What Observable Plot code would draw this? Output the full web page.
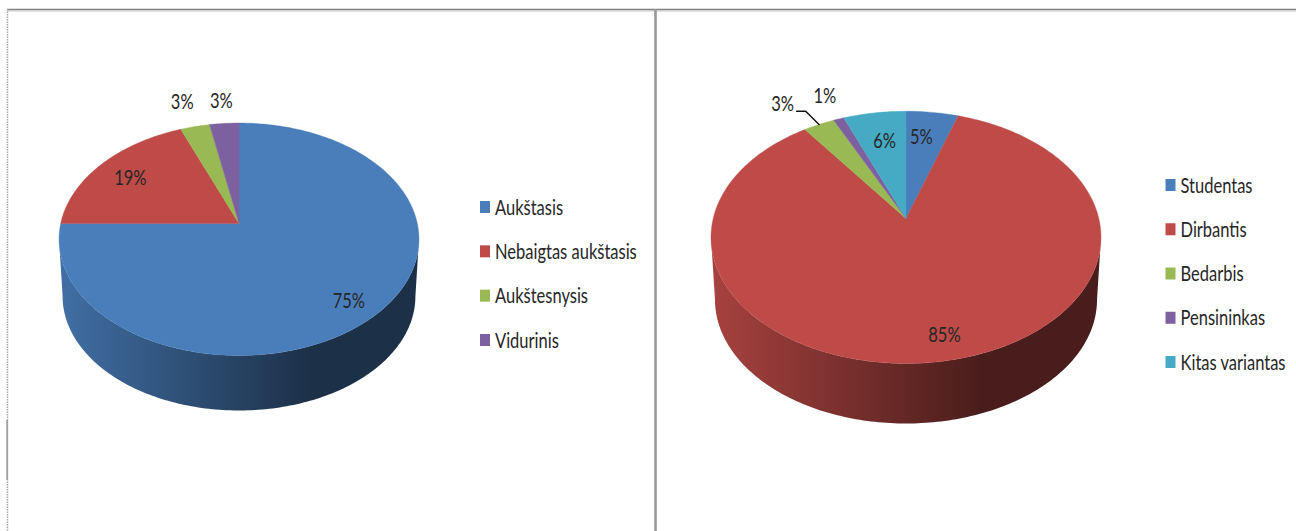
<!DOCTYPE html>
<html lang="lt">
<head>
<meta charset="utf-8">
<title>Respondentų išsilavinimas ir užimtumas</title>
<script src="https://cdn.jsdelivr.net/npm/d3@7"></script>
<script src="https://cdn.jsdelivr.net/npm/@observablehq/plot@0.6"></script>
<style>
  html, body { margin: 0; padding: 0; background: #fff; overflow: hidden; }
  svg { display: block; }
</style>
</head>
<body>
<div id="chart"></div>
<script>
// Education of respondents
const educationLabels = ["Aukštasis", "Nebaigtas aukštasis", "Aukštesnysis", "Vidurinis"];
const educationShares = [75, 19, 3, 3];

// Occupation of respondents
const occupationLabels = ["Studentas", "Dirbantis", "Bedarbis", "Pensininkas", "Kitas variantas"];
const occupationShares = [5, 85, 3, 1, 6];

const sliceColors = ["#4a7ebb", "#be4b48", "#98b954", "#7d60a0", "#46aac5"];

// Perspective of each disc: the top face and the lower rim have their own projection.
const educationDisc = {
  top: {cx: 238.5, cy: 223, rx: 178.3, ry: 114.1, k: 0.1355},
  rim: {cx: 238.5, cy: 278.7, rx: 174.4, ry: 111.6, k: 0.15},
  wallSlice: 0,
  gradient: "wall-education",
  labelRadius: [0.75, 0.75, 1.15, 1.15],
  labelNudge: [[8, 12], [-4, 0], [-7, -11.5], [-1, -9.5]],
  legend: {x: 480, y: 207, step: 44.33}
};
const occupationDisc = {
  top: {cx: 905.5, cy: 218, rx: 192.8, ry: 123.3, k: 0.1494},
  rim: {cx: 905.5, cy: 278.7, rx: 188.4, ry: 120.5, k: 0.165},
  wallSlice: 1,
  gradient: "wall-occupation",
  labelRadius: [0.75, 0.75, 1.15, 1.15, 0.75],
  labelNudge: [[-5, 1], [13, 14], [-25, -8], [-5, -10], [3, 4]],
  legend: {x: 1165.5, y: 185, step: 44.25}
};

const rad = Math.PI / 180;

// Maps a point given in the disc's plane (angle clockwise from the top, radius 0..1) to the page.
function project(p, angle, r = 1) {
  const x = Math.sin(angle * rad) * r;
  const y = Math.cos(angle * rad) * r;
  const w = 1 + p.k * y;
  return {px: p.cx + (p.rx * x) / w, py: p.cy - (p.ry * y) / w};
}

function arc(p, from, to) {
  const n = Math.max(2, Math.ceil(Math.abs(to - from)));
  return d3.range(n + 1).map((i) => project(p, from + ((to - from) * i) / n));
}

// Wedges of the top face, with their angular extent taken from the shares.
function wedges(shares) {
  const total = d3.sum(shares);
  let start = 0;
  return shares.map((value, i) => {
    const from = (start / total) * 360;
    start += value;
    const to = (start / total) * 360;
    return {i, value, from, to, mid: (from + to) / 2};
  });
}

// Visible side wall: the front of the top face joined to the front of the lower rim.
function wall(disc) {
  const tangent = (p) => Math.acos(-p.k) / rad;
  const a = tangent(disc.top);
  const b = tangent(disc.rim);
  return [...arc(disc.top, a, 360 - a), ...arc(disc.rim, 360 - b, b)];
}

// Left-to-right shading of the wall, defined next to the marks that use it.
function gradientDefs(discs) {
  return () => {
    const defs = d3.create("svg:defs");
    for (const disc of discs) {
      const base = d3.color(sliceColors[disc.wallSlice]);
      const g = defs.append("linearGradient").attr("id", disc.gradient);
      for (const [offset, factor] of [[0, 0.88], [0.7, 0.38], [1, 0.38]]) {
        g.append("stop")
          .attr("offset", offset)
          .attr("stop-color", d3.rgb(base.r * factor, base.g * factor, base.b * factor).formatHex());
      }
    }
    return defs.node();
  };
}

function discMarks(disc, shares, labels) {
  const slices = wedges(shares);
  const marks = [];

  marks.push(Plot.line(wall(disc), {x: "px", y: "py", fill: `url(#${disc.gradient})`, stroke: "none"}));

  for (const s of slices) {
    const outline = [{px: disc.top.cx, py: disc.top.cy}, ...arc(disc.top, s.from, s.to), {px: disc.top.cx, py: disc.top.cy}];
    marks.push(Plot.line(outline, {x: "px", y: "py", fill: sliceColors[s.i], stroke: sliceColors[s.i], strokeWidth: 0.4}));
  }

  // Percentage labels, placed from each wedge's middle angle
  const valueLabels = slices.map((s) => {
    const at = project(disc.top, s.mid, disc.labelRadius[s.i]);
    const [dx, dy] = disc.labelNudge[s.i];
    return {px: at.px + dx, py: at.py + dy, text: `${s.value}%`, s};
  });
  marks.push(Plot.text(valueLabels, {x: "px", y: "py", text: "text", fontSize: 22, fill: "#262626", lineAnchor: "middle", textAnchor: "middle"}));

  // Legend
  const rows = labels.map((label, i) => ({label, i, row: disc.legend.y + i * disc.legend.step, left: disc.legend.x}));
  marks.push(Plot.rect(rows, {
    x1: "left",
    x2: (d) => d.left + 10,
    y1: (d) => d.row - 6,
    y2: (d) => d.row + 6,
    fill: (d) => sliceColors[d.i]
  }));
  marks.push(Plot.text(rows, {
    x: (d) => d.left + 14.5,
    y: "row",
    text: "label",
    fontSize: 22,
    fill: "#262626",
    textAnchor: "start",
    lineAnchor: "middle"
  }));

  return {marks, valueLabels, slices};
}

const education = discMarks(educationDisc, educationShares, educationLabels);
const occupation = discMarks(occupationDisc, occupationShares, occupationLabels);

// Leader from the 3% occupation label to its wedge
const leaderLabel = occupation.valueLabels[2];
const leaderEnd = project(occupationDisc.top, leaderLabel.s.mid, 1);
const leader = [
  {px: leaderLabel.px + 14, py: leaderLabel.py + 7},
  {px: leaderLabel.px + 23, py: leaderLabel.py + 7},
  leaderEnd
];

const chart = Plot.plot({
  width: 1296,
  height: 531,
  margin: 0,
  style: {fontFamily: "Lato, sans-serif", background: "#fff"},
  x: {domain: [0, 1296], range: [0, 1296], axis: null},
  y: {domain: [0, 531], range: [0, 531], axis: null},
  marks: [
    gradientDefs([educationDisc, occupationDisc]),
    // Panel frames
    Plot.ruleY([9], {x1: 7, x2: 1296, stroke: "#7f7f7f", strokeWidth: 1.6}),
    Plot.ruleY([10.5], {x1: 7, x2: 1296, stroke: "#c6c6c6", strokeWidth: 1}),
    Plot.ruleX([7], {y1: 9, y2: 531, stroke: "#a8a8a8", strokeWidth: 1.5, strokeDasharray: "1.5,1"}),
    Plot.ruleX([6.6], {y1: 420, y2: 480, stroke: "#999", strokeWidth: 1.5}),
    Plot.ruleX([655], {y1: 9, y2: 531, stroke: "#989898", strokeWidth: 2.6}),
    ...education.marks,
    ...occupation.marks,
    Plot.line(leader, {x: "px", y: "py", stroke: "#111", strokeWidth: 1.5, curve: "linear"})
  ]
});

document.getElementById("chart").append(chart);

// Narrow the humanist face to the condensed proportions of the labels.
chart.querySelectorAll("text").forEach((t) => {
  const placed = t.getAttribute("transform") || "";
  t.setAttribute("transform", `${placed} scale(0.75,1)`);
});
</script>
</body>
</html>
